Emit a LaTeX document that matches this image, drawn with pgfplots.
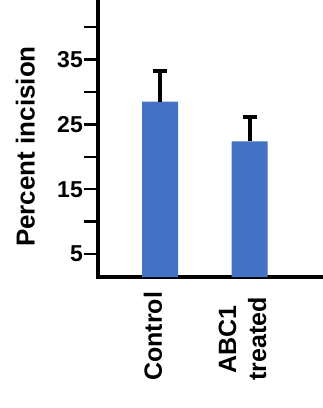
\documentclass[border=0pt]{standalone}
\usepackage{fontspec}
\setmainfont{Liberation Sans}
\usepackage{pgfplots}
\pgfplotsset{compat=1.18}
\definecolor{barblue}{RGB}{68,114,196}
\begin{document}
\begin{tikzpicture}
\useasboundingbox (-98pt,-131pt) rectangle (225pt,277pt);
\begin{axis}[
  at={(0pt,0pt)}, anchor=south west,
  scale only axis, width=224pt, height=277pt,
  xmin=-0.693, xmax=1.81, ymin=1.45, ymax=44.2,
  axis lines=left,
  axis line style={-, line width=3.5pt, line cap=rect},
  clip=true,
  ytick={5,10,15,20,25,30,35,40},
  yticklabels={5,,15,,25,,35,},
  tick align=outside, major tick length=14pt,
  y tick style={line width=2.5pt, black},
  xtick={0,1},
  xticklabels={Control, ABC1\\treated},
  x tick style={draw=none},
  yticklabel style={font=\fontsize{23}{26}\selectfont\bfseries, inner sep=1pt},
  xticklabel style={font=\fontsize{25}{30}\selectfont\bfseries, align=center, inner sep=0pt, yshift=-90pt, xshift=-7pt, rotate=90, anchor=west},
  ylabel={Percent incision},
  every axis y label/.style={at={(axis description cs:-0.324,0.471)}, rotate=90, anchor=center, font=\fontsize{26}{30}\selectfont\bfseries},
]
\addplot[ybar, bar width=36pt, fill=barblue, draw=none,
  error bars/.cd, y dir=plus, y explicit,
  error bar style={line width=4pt, black},
  error mark options={rotate=90, mark size=7pt, line width=4pt, black}]
  coordinates {(0,28.5) +- (0,4.8) (1,22.4) +- (0,3.75)};
\end{axis}
\end{tikzpicture}
\end{document}
